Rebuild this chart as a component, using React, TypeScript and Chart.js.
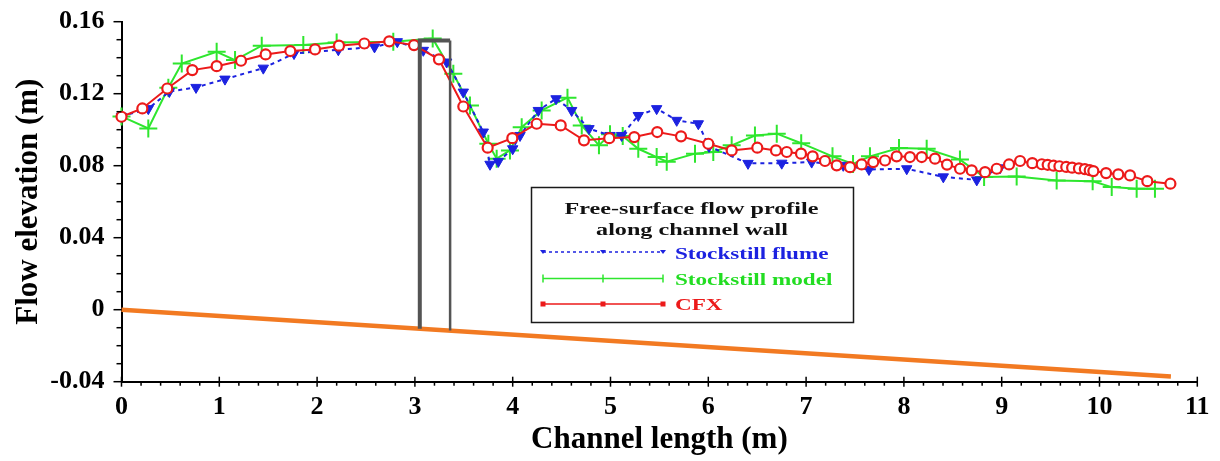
import React, { useEffect, useRef } from 'react';
import { Chart, registerables } from 'chart.js';

Chart.register(...registerables);

// ---------- data ----------
const cfxX = [0.0, 0.213, 0.468, 0.724, 0.973, 1.222, 1.474, 1.726, 1.979, 2.224, 2.483, 2.738, 2.991, 3.246, 3.495, 3.744, 3.996, 4.245, 4.491, 4.729, 4.987, 5.243, 5.478, 5.721, 6.0, 6.239, 6.501, 6.692, 6.802, 6.948, 7.067, 7.193, 7.313, 7.449, 7.568, 7.687, 7.807, 7.926, 8.062, 8.182, 8.318, 8.441, 8.574, 8.693, 8.83, 8.949, 9.075, 9.188, 9.313, 9.41, 9.47, 9.53, 9.59, 9.66, 9.72, 9.79, 9.85, 9.9, 9.937, 10.067, 10.192, 10.312, 10.489, 10.725];
const cfxY = [0.1072, 0.1118, 0.1229, 0.1331, 0.1353, 0.1383, 0.1418, 0.1437, 0.1446, 0.1467, 0.1479, 0.1491, 0.147, 0.1391, 0.1129, 0.09, 0.0953, 0.1033, 0.1024, 0.0941, 0.0953, 0.0959, 0.0987, 0.0963, 0.0922, 0.0885, 0.09, 0.0885, 0.0876, 0.0867, 0.0852, 0.0826, 0.0802, 0.0792, 0.0807, 0.082, 0.0829, 0.0852, 0.0848, 0.0848, 0.0839, 0.0806, 0.0783, 0.0774, 0.0764, 0.0783, 0.0807, 0.0826, 0.0814, 0.0808, 0.0805, 0.08, 0.0797, 0.0793, 0.0789, 0.0785, 0.0781, 0.0775, 0.077, 0.0759, 0.0752, 0.0746, 0.0714, 0.07];

const flumeX = [0.0, 0.274, 0.489, 0.762, 1.058, 1.45, 1.764, 2.217, 2.587, 2.82, 3.086, 3.325, 3.495, 3.699, 3.768, 3.853, 4.0, 4.075, 4.262, 4.443, 4.603, 4.78, 4.995, 5.114, 5.284, 5.472, 5.677, 5.898, 6.007, 6.406, 6.751, 7.057, 7.38, 7.643, 8.029, 8.403, 8.745, 8.983];
const flumeY = [0.1074, 0.1117, 0.1212, 0.1235, 0.1281, 0.1342, 0.1423, 0.1444, 0.146, 0.1489, 0.1441, 0.1376, 0.1209, 0.0987, 0.0808, 0.0824, 0.0894, 0.0968, 0.1107, 0.1172, 0.1107, 0.1006, 0.0968, 0.0968, 0.1079, 0.1117, 0.1052, 0.1033, 0.0907, 0.0813, 0.0814, 0.082, 0.0802, 0.0779, 0.0783, 0.0738, 0.0721, 0.0788];

const modelX = [0.0, 0.274, 0.479, 0.616, 0.973, 1.161, 1.434, 1.859, 2.2, 2.779, 3.182, 3.393, 3.563, 3.751, 3.836, 3.972, 4.092, 4.296, 4.56, 4.706, 4.882, 4.995, 5.125, 5.284, 5.472, 5.575, 5.864, 6.051, 6.239, 6.477, 6.7, 6.95, 7.27, 7.48, 7.653, 7.95, 8.233, 8.573, 8.82, 9.153, 9.562, 9.93, 10.125, 10.38, 10.567];
const modelY = [0.1074, 0.1007, 0.1233, 0.1368, 0.1433, 0.1387, 0.1467, 0.147, 0.1485, 0.1489, 0.1506, 0.1311, 0.1135, 0.0922, 0.0839, 0.0885, 0.1014, 0.1107, 0.1178, 0.1024, 0.0913, 0.0975, 0.0965, 0.0894, 0.0848, 0.0822, 0.0867, 0.0876, 0.0913, 0.0968, 0.0978, 0.0925, 0.0852, 0.081, 0.0852, 0.0898, 0.0894, 0.0834, 0.0737, 0.074, 0.0718, 0.0714, 0.0681, 0.0672, 0.0672];

const bedX = [0, 10.73];
const bedY = [0, -0.0371];

const gateLeftX = [3.05, 3.05, 3.36];
const gateLeftY = [-0.0106, 0.1496, 0.1496];
const gateRightX = [3.36, 3.36];
const gateRightY = [0.1496, -0.0116];

const xTicks = [0, 1, 2, 3, 4, 5, 6, 7, 8, 9, 10, 11];
const xTickLabels = ['0', '1', '2', '3', '4', '5', '6', '7', '8', '9', '10', '11'];
const yTicks = [-0.04, 0, 0.04, 0.08, 0.12, 0.16];
const yTickLabels = ['-0.04', '0', '0.04', '0.08', '0.12', '0.16'];
const xMinorStep = 0.2;
const yMinorStep = 0.01;

const legendTitle = ['Free-surface flow profile', 'along channel wall'];
const seriesNames = ['Stockstill flume', 'Stockstill model', 'CFX'];
const xTitle = 'Channel length (m)';
const yTitle = 'Flow elevation (m)';

// ---------- styles ----------
const BLUE = '#1c22e0';
const GREEN = '#2ee62e';
const RED = '#ec1a1a';
const GATE = '#545454';
const BED = '#f27a22';
const SERIF = "'Liberation Serif', 'Times New Roman', serif";

const pts = (xs: number[], ys: number[]) => xs.map((x, i) => ({ x, y: ys[i] }));

function stretchText(ctx: CanvasRenderingContext2D, text: string, x: number, y: number, align: CanvasTextAlign, sx: number) {
  ctx.save();
  ctx.translate(x, y);
  ctx.scale(sx, 1);
  ctx.textAlign = align;
  ctx.textBaseline = 'middle';
  ctx.fillText(text, 0, 0);
  ctx.restore();
}

const decorPlugin = {
  id: 'decor',
  afterDraw(chart: any) {
    const ctx: CanvasRenderingContext2D = chart.ctx;
    const xs = chart.scales.x;
    const ys = chart.scales.y;
    const area = chart.chartArea;
    ctx.save();
    ctx.strokeStyle = '#000';
    ctx.lineWidth = 1.5;
    // y ticks (major + minor)
    const yMin = yTicks[0];
    const yMax = yTicks[yTicks.length - 1];
    const nY = Math.round((yMax - yMin) / yMinorStep);
    for (let i = 0; i <= nY; i++) {
      const v = yMin + i * yMinorStep;
      const py = ys.getPixelForValue(v);
      const major = i % 4 === 0;
      ctx.beginPath();
      ctx.moveTo(area.left, py);
      ctx.lineTo(area.left - (major ? 8 : 5), py);
      ctx.stroke();
    }
    // x ticks
    const xMax = xTicks[xTicks.length - 1];
    const nX = Math.round(xMax / xMinorStep);
    for (let i = 0; i <= nX; i++) {
      const v = i * xMinorStep;
      const px = xs.getPixelForValue(v);
      const major = i % 5 === 0;
      ctx.beginPath();
      ctx.moveTo(px, area.bottom - (major ? 5 : 0));
      ctx.lineTo(px, area.bottom + (major ? 5 : 4));
      ctx.stroke();
    }

    // legend box
    const bx = 531.5, by = 187.5, bw = 322, bh = 135;
    ctx.fillStyle = '#fff';
    ctx.fillRect(bx, by, bw, bh);
    ctx.strokeStyle = '#1a1a1a';
    ctx.lineWidth = 1.5;
    ctx.strokeRect(bx, by, bw, bh);

    ctx.fillStyle = '#111';
    ctx.font = `bold 17px ${SERIF}`;
    stretchText(ctx, legendTitle[0], 691.5, 210, 'center', 1.42);
    stretchText(ctx, legendTitle[1], 692, 231, 'center', 1.42);

    const x0 = 543, x1 = 603, x2 = 663;
    const rows = [252, 278.5, 304];
    // blue
    ctx.strokeStyle = BLUE;
    ctx.lineWidth = 1.5;
    ctx.setLineDash([3, 3]);
    ctx.beginPath(); ctx.moveTo(x0, rows[0]); ctx.lineTo(x2, rows[0]); ctx.stroke();
    ctx.setLineDash([]);
    ctx.fillStyle = BLUE;
    [x0, x1, x2].forEach((x) => {
      ctx.beginPath();
      ctx.moveTo(x - 3, rows[0] - 2);
      ctx.lineTo(x + 3, rows[0] - 2);
      ctx.lineTo(x, rows[0] + 2);
      ctx.closePath();
      ctx.fill();
    });
    // green
    ctx.strokeStyle = GREEN;
    ctx.beginPath(); ctx.moveTo(x0, rows[1]); ctx.lineTo(x2, rows[1]); ctx.stroke();
    [x0, x1, x2].forEach((x) => {
      ctx.beginPath(); ctx.moveTo(x, rows[1] - 4); ctx.lineTo(x, rows[1] + 4); ctx.stroke();
    });
    // red
    ctx.strokeStyle = RED;
    ctx.beginPath(); ctx.moveTo(x0, rows[2]); ctx.lineTo(x2, rows[2]); ctx.stroke();
    ctx.fillStyle = RED;
    [x0, x1, x2].forEach((x) => ctx.fillRect(x - 2.5, rows[2] - 2.5, 5, 5));

    ctx.font = `bold 17px ${SERIF}`;
    ctx.fillStyle = BLUE;
    stretchText(ctx, seriesNames[0], 675, rows[0] + 3, 'left', 1.36);
    ctx.fillStyle = '#22dd22';
    stretchText(ctx, seriesNames[1], 675, rows[1] + 2, 'left', 1.36);
    ctx.fillStyle = RED;
    stretchText(ctx, seriesNames[2], 675, rows[2] + 2, 'left', 1.36);
    ctx.restore();
  },
};

export default function App() {
  const ref = useRef<HTMLCanvasElement | null>(null);

  useEffect(() => {
    if (!ref.current) return;
    const chart = new Chart(ref.current, {
      type: 'scatter',
      data: {
        datasets: [
          {
            label: 'gate-left',
            data: pts(gateLeftX, gateLeftY),
            showLine: true,
            borderColor: GATE,
            borderWidth: 4,
            pointRadius: 0,
            order: 0,
            clip: false,
          },
          {
            label: 'gate-right',
            data: pts(gateRightX, gateRightY),
            showLine: true,
            borderColor: GATE,
            borderWidth: 2.5,
            pointRadius: 0,
            order: 0,
            clip: false,
          },
          {
            label: seriesNames[2],
            data: pts(cfxX, cfxY),
            showLine: true,
            borderColor: RED,
            borderWidth: 2,
            pointStyle: 'circle',
            pointRadius: 5,
            pointBorderWidth: 2.2,
            pointBackgroundColor: '#fff',
            pointBorderColor: RED,
            order: 1,
            clip: false,
          },
          {
            label: seriesNames[0],
            data: pts(flumeX, flumeY),
            showLine: true,
            borderColor: BLUE,
            borderWidth: 2,
            borderDash: [4, 4],
            pointStyle: 'triangle',
            rotation: 180,
            pointRadius: 6,
            pointBorderWidth: 1,
            pointBackgroundColor: BLUE,
            pointBorderColor: BLUE,
            order: 2,
            clip: false,
          },
          {
            label: seriesNames[1],
            data: pts(modelX, modelY),
            showLine: true,
            borderColor: GREEN,
            borderWidth: 2,
            pointStyle: 'cross',
            pointRadius: 9,
            pointBorderWidth: 2,
            pointBorderColor: GREEN,
            pointBackgroundColor: GREEN,
            order: 3,
            clip: false,
          },
          {
            label: 'bed',
            data: pts(bedX, bedY),
            showLine: true,
            borderColor: BED,
            borderWidth: 4.5,
            pointRadius: 0,
            order: 5,
            clip: false,
          },
        ],
      },
      options: {
        responsive: false,
        devicePixelRatio: 1,
        animation: false,
        events: [],
        layout: { padding: { left: 0, top: 21.7, right: 22.7, bottom: 0 } },
        plugins: {
          legend: { display: false },
          tooltip: { enabled: false },
          title: { display: false },
        },
        scales: {
          x: {
            type: 'linear',
            min: xTicks[0],
            max: xTicks[xTicks.length - 1],
            afterBuildTicks: (scale: any) => {
              scale.ticks = xTicks.map((v) => ({ value: v }));
            },
            afterFit: (scale: any) => {
              scale.height = 79.3;
            },
            grid: { display: false, drawTicks: false },
            border: { display: true, color: '#000', width: 2 },
            ticks: {
              color: '#000',
              padding: 10,
              maxRotation: 0,
              autoSkip: false,
              font: { family: SERIF, weight: 'bold', size: 26 },
              callback: (v: any) => {
                const i = xTicks.indexOf(Number(v));
                return i >= 0 ? xTickLabels[i] : '';
              },
            },
            title: {
              display: true,
              text: xTitle,
              color: '#000',
              font: { family: SERIF, weight: 'bold', size: 31 },
              padding: { top: 0, bottom: 2 },
            },
          },
          y: {
            type: 'linear',
            min: yTicks[0],
            max: yTicks[yTicks.length - 1],
            afterBuildTicks: (scale: any) => {
              scale.ticks = yTicks.map((v) => ({ value: v }));
            },
            afterFit: (scale: any) => {
              scale.width = 121.5;
            },
            grid: {
              display: true,
              drawOnChartArea: false,
              drawTicks: true,
              tickLength: 13,
              tickColor: 'rgba(0,0,0,0)',
              color: 'rgba(0,0,0,0)',
            },
            border: { display: true, color: '#000', width: 2 },
            ticks: {
              color: '#000',
              padding: 4,
              autoSkip: false,
              font: { family: SERIF, weight: 'bold', size: 26 },
              callback: (v: any) => {
                const i = yTicks.findIndex((t) => Math.abs(t - Number(v)) < 1e-9);
                return i >= 0 ? yTickLabels[i] : '';
              },
            },
            title: {
              display: true,
              text: yTitle,
              color: '#000',
              font: { family: SERIF, weight: 'bold', size: 31 },
              padding: { top: 10, bottom: 0 },
            },
          },
        },
      },
      plugins: [decorPlugin],
    } as any);
    return () => chart.destroy();
  }, []);

  return (
    <div style={{ position: 'absolute', left: 0, top: 0, width: 1220, height: 461, background: '#fff' }}>
      <canvas ref={ref} width={1220} height={461} style={{ display: 'block' }} />
    </div>
  );
}
